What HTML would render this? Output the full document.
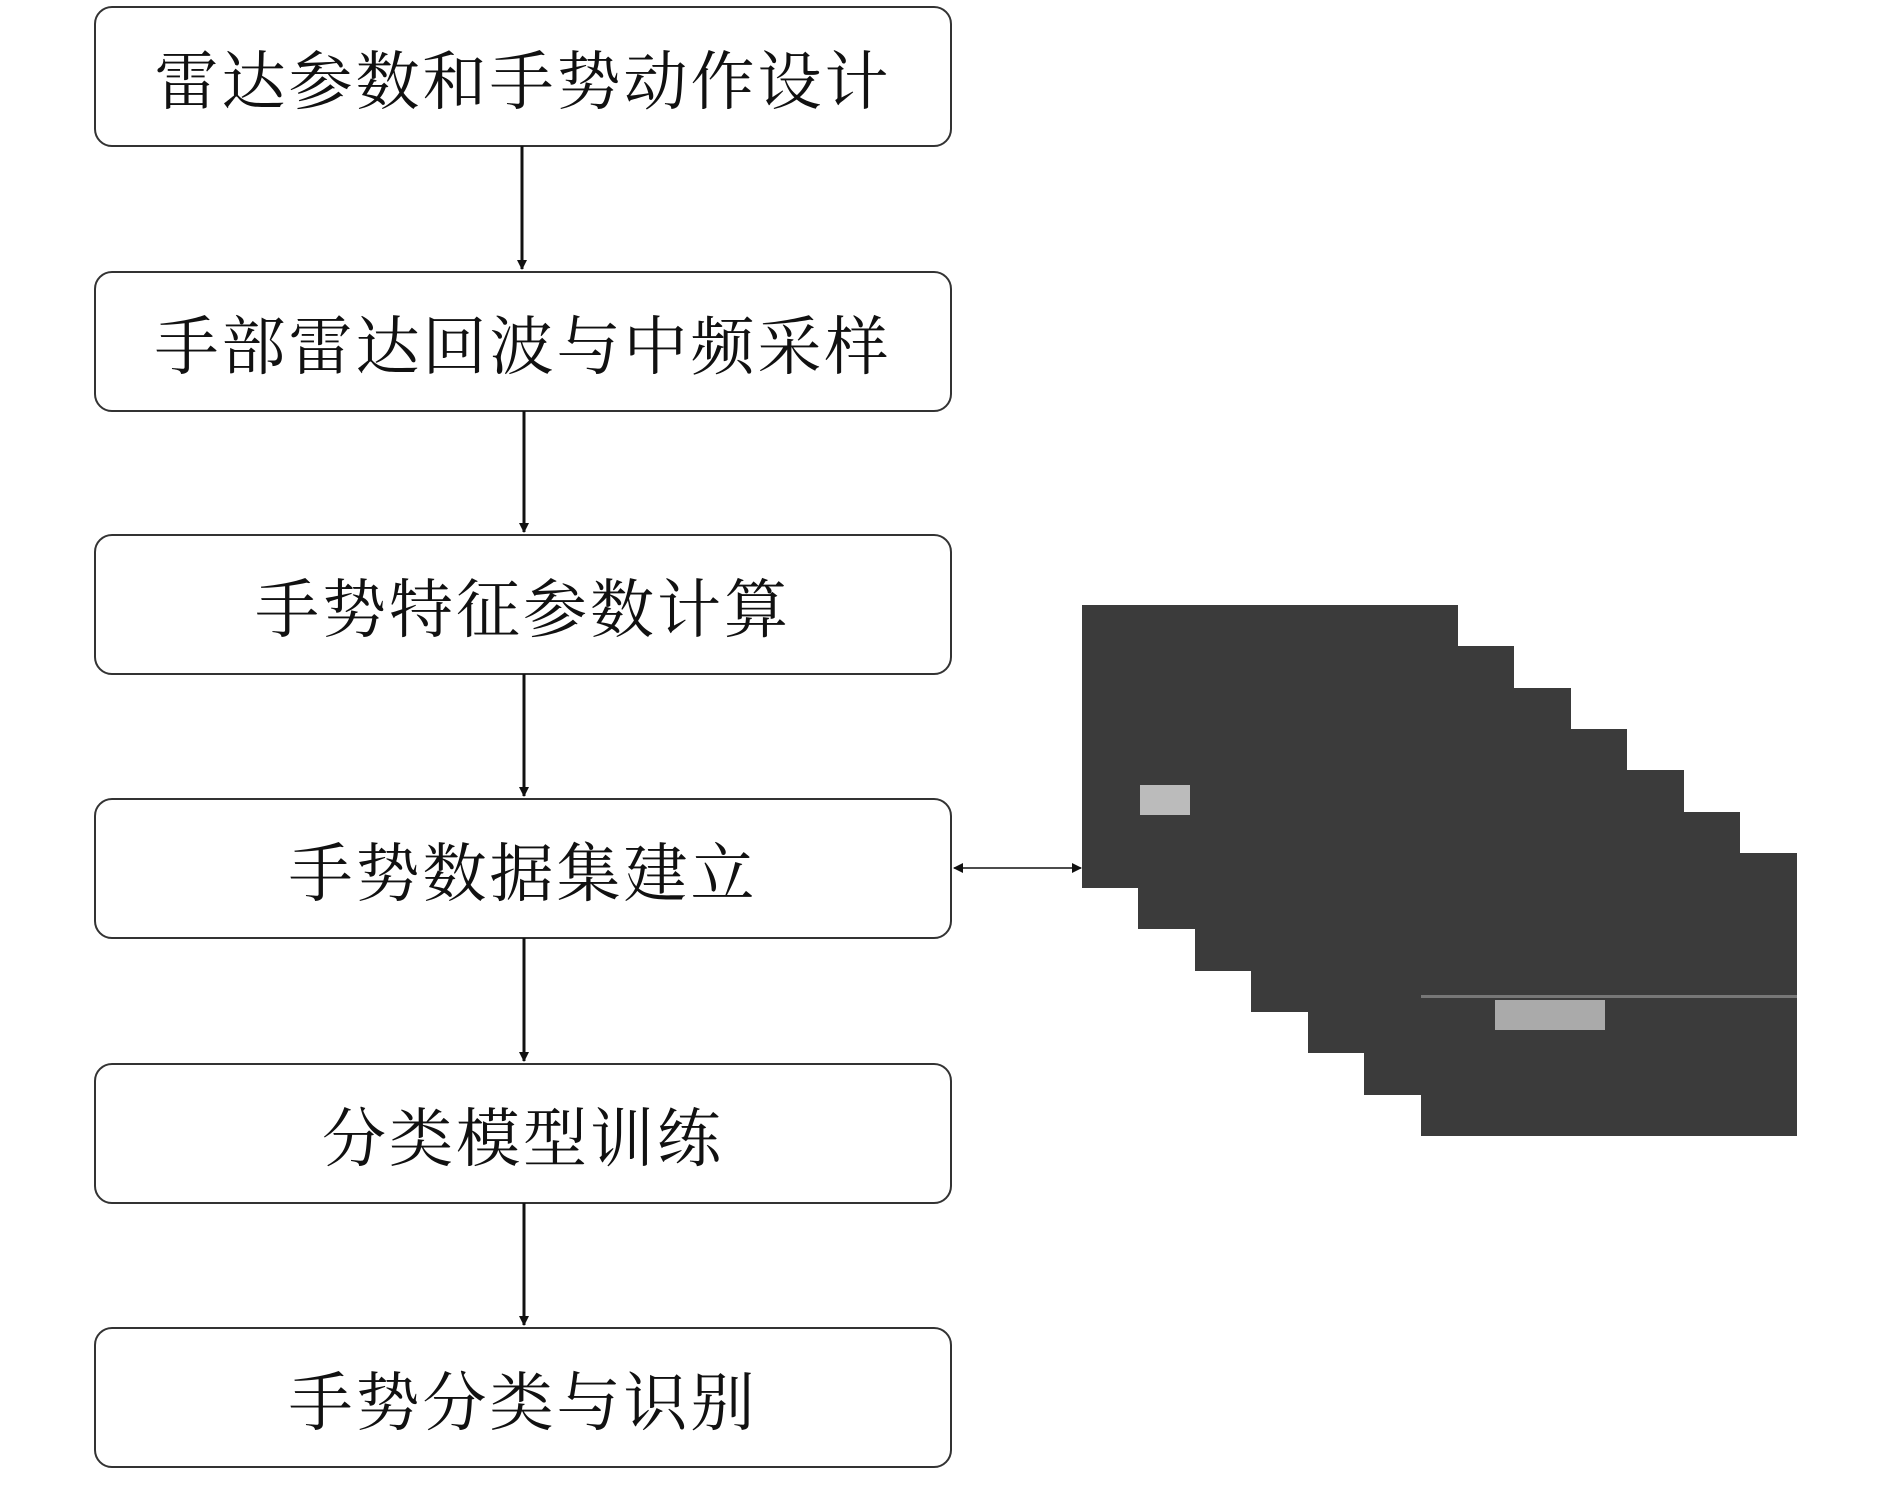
<!DOCTYPE html>
<html><head><meta charset="utf-8"><style>
html,body{margin:0;padding:0;background:#fff;}
body{width:1890px;height:1488px;position:relative;overflow:hidden;}
.b{position:absolute;left:94px;width:858px;height:141px;border:2.5px solid #333;border-radius:18px;box-sizing:border-box;display:flex;align-items:center;justify-content:center;font-family:"Liberation Serif","Noto Serif CJK SC",serif;font-size:64px;color:#111;letter-spacing:3px;}
.f{position:absolute;width:376px;height:283px;background:#3b3b3b;}
</style></head><body>
<div class="b" style="top:6px">雷达参数和手势动作设计</div>
<div class="b" style="top:271px">手部雷达回波与中频采样</div>
<div class="b" style="top:534px">手势特征参数计算</div>
<div class="b" style="top:798px">手势数据集建立</div>
<div class="b" style="top:1063px">分类模型训练</div>
<div class="b" style="top:1327px">手势分类与识别</div>
<div class="f" style="left:1082px;top:605px"></div>
<div class="f" style="left:1138px;top:646px"></div>
<div class="f" style="left:1195px;top:688px"></div>
<div class="f" style="left:1251px;top:729px"></div>
<div class="f" style="left:1308px;top:770px"></div>
<div class="f" style="left:1364px;top:812px"></div>
<div class="f" style="left:1421px;top:853px"></div>
<div style="position:absolute;left:1140px;top:785px;width:50px;height:30px;background:#bbb"></div>
<div style="position:absolute;left:1495px;top:1000px;width:110px;height:30px;background:#aaa"></div>
<div style="position:absolute;left:1421px;top:995px;width:376px;height:3px;background:#777"></div>
<svg width="1890" height="1488" style="position:absolute;left:0;top:0">
<defs><marker id="a" markerWidth="10" markerHeight="10" refX="9" refY="5" orient="auto" markerUnits="userSpaceOnUse"><path d="M0,0 L10,5 L0,10 z" fill="#111"/></marker>
<marker id="s" markerWidth="10" markerHeight="10" refX="1" refY="5" orient="auto" markerUnits="userSpaceOnUse"><path d="M10,0 L0,5 L10,10 z" fill="#111"/></marker></defs>
<g stroke="#111" stroke-width="3" marker-end="url(#a)">
<line x1="522" y1="146" x2="522" y2="269"/>
<line x1="524" y1="411" x2="524" y2="532"/>
<line x1="524" y1="674" x2="524" y2="796"/>
<line x1="524" y1="938" x2="524" y2="1061"/>
<line x1="524" y1="1203" x2="524" y2="1325"/>
</g>
<line x1="954" y1="868" x2="1081" y2="868" stroke="#111" stroke-width="1.5" marker-end="url(#a)" marker-start="url(#s)"/>
</svg>
</body></html>
